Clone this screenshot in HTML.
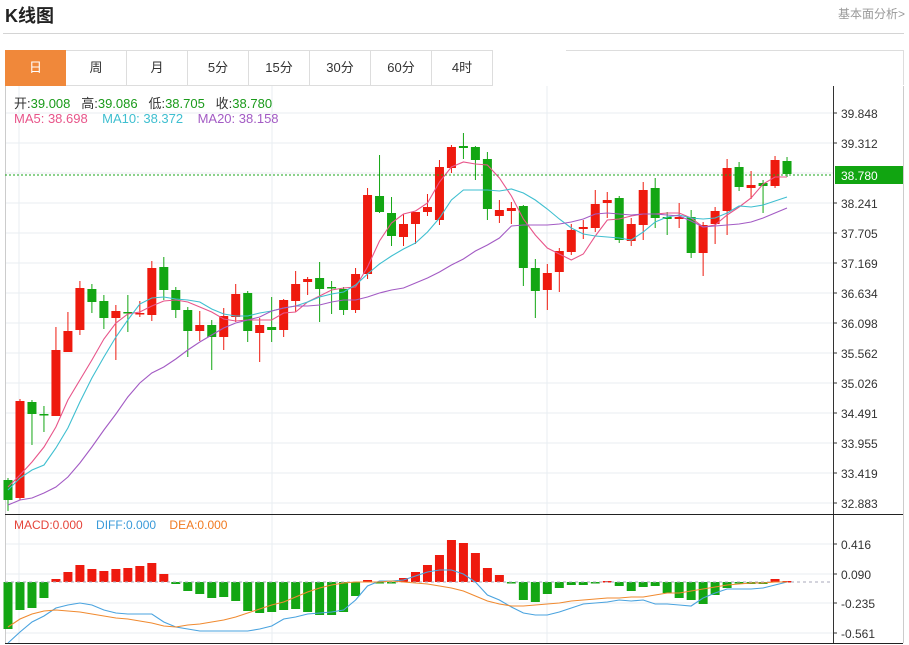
<!DOCTYPE html>
<html><head><meta charset="utf-8"><style>
body{margin:0;background:#fff;width:909px;height:645px;overflow:hidden;font-family:"Liberation Sans","Noto Sans CJK SC",sans-serif;position:relative}
.t{position:absolute;white-space:nowrap}
.tab{position:absolute;top:50px;height:34px;width:60px;border:1px solid #ddd;border-left:none;text-align:center;line-height:34px;font-size:13px;color:#333;background:#fff}
</style></head><body>
<div class="t" style="left:5px;top:2px;font-size:18px;font-weight:bold;color:#222">K线图</div>
<div class="t" style="left:838px;top:5px;font-size:12px;color:#999">基本面分析&gt;</div>
<div style="position:absolute;left:3px;top:33px;width:901px;height:1px;background:#d4d4d4"></div>
<div id="tabs"></div>
<svg id="s" width="909" height="645" style="position:absolute;left:0;top:0" xmlns="http://www.w3.org/2000/svg"></svg>
<div class="t" style="left:14px;top:93px;font-size:13px;color:#333">开:<span style="color:#1a9a1a">39.008</span>&nbsp;&nbsp; 高:<span style="color:#1a9a1a">39.086</span>&nbsp;&nbsp; 低:<span style="color:#1a9a1a">38.705</span>&nbsp;&nbsp; 收:<span style="color:#1a9a1a">38.780</span></div>
<div class="t" style="left:14px;top:111px;font-size:13px"><span style="color:#e8558a">MA5: 38.698</span>&nbsp;&nbsp;&nbsp; <span style="color:#3fbfd0">MA10: 38.372</span>&nbsp;&nbsp;&nbsp; <span style="color:#a35bc4">MA20: 38.158</span></div>
<div class="t" style="left:14px;top:518px;font-size:12px"><span style="color:#e5443a">MACD:0.000</span>&nbsp;&nbsp;&nbsp; <span style="color:#3a9ad9">DIFF:0.000</span>&nbsp;&nbsp;&nbsp; <span style="color:#f07a20">DEA:0.000</span></div>
<script>
var tabs=["日","周","月","5分","15分","30分","60分","4时"],h="";
h+='<div class="tab" style="left:566px;width:337px;border-bottom:none"></div>';
tabs.forEach(function(t,i){h+='<div class="tab" style="left:'+(5+i*61)+'px;'+(i==0?'width:59px;background:#f0883a;color:#fff;border-color:#f0883a;border-left:1px solid #f0883a;':'')+'">'+t+'</div>';});
document.getElementById("tabs").innerHTML=h;
var s="";
function L(x1,y1,x2,y2,c,w,d){s+='<line x1="'+x1+'" y1="'+y1+'" x2="'+x2+'" y2="'+y2+'" stroke="'+c+'" stroke-width="'+(w||1)+'"'+(d?' stroke-dasharray="'+d+'"':'')+'/>';}
function T(x,y,t,c,sz){s+='<text x="'+x+'" y="'+y+'" font-size="'+(sz||12)+'" fill="'+(c||'#333')+'" font-family="Liberation Sans,sans-serif">'+t+'</text>';}
var pl=["39.848","39.312","38.241","37.705","37.169","36.634","36.098","35.562","35.026","34.491","33.955","33.419","32.883"];
var py=[113,143,203,233,263,293,323,353,383,413,443,473,503];
for(var i=0;i<14;i++){L(5,113+30*i,833,113+30*i,"#e9edf2");}
[544,574,603,633].forEach(function(y){L(5,y,833,y,"#e9edf2");});
[19,272,547].forEach(function(x){L(x,86,x,643,"#e9edf2");});
pl.forEach(function(p,i){L(833,py[i],837,py[i],"#333");T(841,py[i]+5,p);});
[["0.416",544],["0.090",574],["-0.235",603],["-0.561",633]].forEach(function(a){L(833,a[1],837,a[1],"#333");T(841,a[1]+5,a[0]);});
L(5.5,86,5.5,643,"#ccc");L(903.5,86,903.5,643,"#ccc");
L(833.5,86,833.5,643,"#333");L(5,514.5,903,514.5,"#222");L(5,643.5,903,643.5,"#222");
var C=[[480,500,478,511,0],[401,498,399,500,1],[402,414,400,445,0],[414,415,406,432,0],[350,416,327,416,1],[331,352,312,352,1],[288,330,281,335,1],[289,302,284,313,0],[301,318,295,329,0],[311,318,305,360,1],[312,313,295,332,0],[313,314,301,317,1],[268,315,261,321,1],[267,290,257,300,0],[290,310,287,318,0],[310,331,307,357,0],[325,331,311,341,1],[325,337,320,370,0],[316,337,308,350,1],[294,317,284,322,1],[293,331,291,342,0],[325,333,318,362,1],[327,330,297,342,0],[300,330,299,337,1],[284,301,271,312,1],[279,282,277,295,1],[278,289,262,322,0],[287,288,281,314,0],[289,310,287,315,0],[274,310,268,313,1],[195,274,188,279,1],[196,212,155,213,0],[213,236,197,246,0],[224,237,214,246,1],[212,224,212,244,1],[207,212,194,216,1],[167,220,160,225,1],[147,168,145,173,1],[146,148,133,159,0],[147,160,146,180,0],[159,209,152,220,0],[210,216,200,223,1],[208,211,202,224,1],[206,268,205,286,0],[268,291,259,318,0],[273,290,264,310,1],[251,272,248,292,1],[230,252,224,255,1],[227,229,220,239,1],[204,228,190,232,1],[200,203,192,218,1],[198,240,196,243,0],[224,241,218,246,1],[190,225,182,240,1],[188,218,178,228,0],[217,219,212,235,0],[217,219,203,228,1],[217,253,210,258,0],[225,253,222,276,1],[211,224,207,244,1],[168,211,159,235,1],[167,187,162,191,0],[185,188,171,199,1],[183,186,180,213,0],[160,186,156,188,1],[161,174,157,177,0]];
function X(i){return 8+i*11.985;}
var M=[629,610,608,598,-579,-572,-565,-569,-571,-569,-568,-566,-563,-574,584,591,594,598,597,601,611,613,612,610,609,612,615,615,612,596,-580,583,583,-578,-572,-565,-555,-540,-543,-553,-568,-575,583,600,602,594,588,585,585,583,-581,586,591,587,586,593,598,600,604,595,588,583,584,584,-579,-581];
M.forEach(function(v,i){var r=v<0,y=Math.abs(v),x=X(i);var t=Math.min(582,y),b=Math.max(582,y);if(b-t<1.5)b=t+1.5;s+='<rect x="'+(x-4.5)+'" y="'+t+'" width="9" height="'+(b-t)+'" fill="'+(r?'#ee1a0e':'#13a613')+'"/>';});
L(5,582,833,582,"#aab","1","3,3");
C.forEach(function(c,i){var x=X(i),col=c[4]?'#ee1a0e':'#13a613';L(x,c[2],x,c[3],col);var h=Math.max(c[1]-c[0],1.5);s+='<rect x="'+(x-4.5)+'" y="'+c[0]+'" width="9" height="'+h+'" fill="'+col+'"/>';});
function P(a,c){var p=a.map(function(v,i){return X(i).toFixed(1)+','+v;}).join(' ');s+='<polyline points="'+p+'" fill="none" stroke="'+c+'" stroke-width="1.1"/>';}
P([487,475,462,447,427,400,380,360,339,323,314,312,306,301,300,302,307,312,319,321,320,320,320,313,312,302,296,290,288,287,267,241,223,214,211,203,182,167,162,164,165,178,196,219,235,248,254,260,254,236,220,219,216,214,214,213,213,218,227,225,215,207,198,184,177,177],"#e8558a");
P([490,478,470,465,448,428,402,378,357,337,320,304,298,297,299,300,302,309,314,316,316,313,311,308,306,302,297,294,292,285,274,264,256,249,243,232,218,200,190,190,190,191,189,193,200,209,219,228,234,236,237,238,240,232,222,217,215,218,219,218,213,206,207,205,201,197],"#3fbfd0");
P([505,500,498,493,487,477,463,447,430,414,397,383,373,367,359,350,342,335,328,323,320,317,311,308,306,306,305,302,300,300,297,293,290,288,283,278,272,265,259,251,245,238,226,225,225,225,224,222,219,214,213,214,215,214,214,215,216,221,227,226,225,224,222,218,213,208],"#a35bc4");
P([643,632,622,616,608,605,603,605,610,613,614,614,614,622,627,629,631,631,631,631,631,629,626,619,617,614,613,612,610,600,586,581,581,580,576,572,570,570,574,582,595,600,607,613,615,615,612,608,604,603,602,600,601,600,604,604,605,606,598,593,589,589,589,588,585,582],"#4aa3df");
P([627,619,614,611,610,611,612,614,616,618,619,621,623,626,627,625,624,622,620,617,613,609,605,602,597,592,588,585,583,582,582,582,581,582,583,584,586,588,591,596,601,604,606,606,605,604,603,601,600,599,598,598,597,597,595,593,593,591,589,587,585,584,583,583,582,582],"#f08a30");
L(5,175,833,175,"#1aa51a",1,"2,2");
s+='<rect x="835" y="166" width="68" height="18" fill="#11a511"/>';
T(841,180,"38.780","#fff",12);
document.getElementById("s").innerHTML=s;
</script>
</body></html>
